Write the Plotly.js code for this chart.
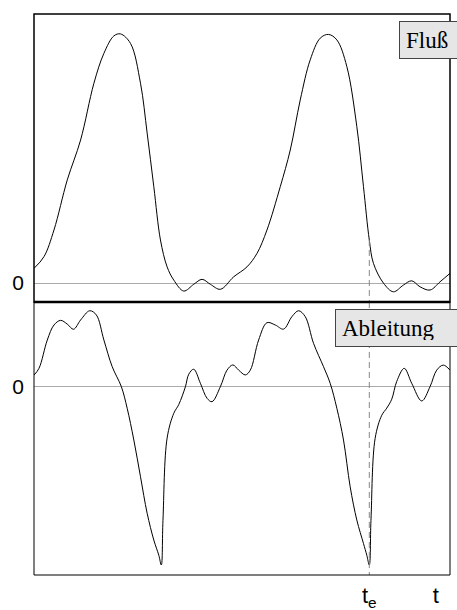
<!DOCTYPE html>
<html>
<head>
<meta charset="utf-8">
<script src="https://cdn.plot.ly/plotly-3.0.1.min.js"></script>
<style>
  html, body { margin: 0; padding: 0; background: #fff; }
  #chart { width: 457px; height: 610px; }
</style>
</head>
<body>
<div id="chart"></div>
<script>
// Flow signal (Fluß) over time
const tFlow = [0, 24, 48, 80, 112, 144, 168, 192, 208, 232, 256, 272, 288, 304, 320, 336, 360, 384, 404, 424, 448,
  480, 512, 536, 560, 592, 616, 640, 664, 688, 708, 728, 752, 776, 792, 806, 816, 840, 864, 888, 908, 928, 952, 976, 1000];
const flow = [0.059, 0.106, 0.213, 0.414, 0.574, 0.802, 0.922, 0.992, 1.0, 0.962, 0.802, 0.602, 0.387, 0.173, 0.065,
  0.012, -0.032, -0.005, 0.015, -0.005, -0.025, 0.025, 0.065, 0.119, 0.213, 0.387, 0.534, 0.735, 0.896, 0.983, 0.998,
  0.976, 0.869, 0.628, 0.387, 0.173, 0.079, 0.0, -0.035, -0.008, 0.009, -0.015, -0.028, 0.005, 0.039];

// Derivative of the flow (Ableitung)
const tDeriv = [0, 12, 32, 48, 64, 80, 95, 112, 134, 150, 168, 188, 210, 224, 240, 256, 272, 288, 300, 306, 310, 320,
  336, 348, 364, 372, 384, 400, 416, 428, 448, 464, 478, 492, 508, 520, 540, 560, 580, 600, 620, 636, 652, 672, 696,
  712, 728, 744, 760, 776, 792, 800, 806, 810, 820, 836, 848, 860, 872, 890, 908, 932, 952, 968, 984, 1000];
const deriv = [0.065, 0.103, 0.262, 0.346, 0.372, 0.351, 0.322, 0.374, 0.426, 0.402, 0.262, 0.112, 0.0, -0.121,
  -0.299, -0.505, -0.710, -0.860, -0.945, -1.0, -0.75, -0.288, -0.149, -0.100, 0.0, 0.070, 0.098, 0.019, -0.065,
  -0.084, 0.0, 0.093, 0.122, 0.093, 0.066, 0.093, 0.262, 0.359, 0.346, 0.323, 0.393, 0.426, 0.393, 0.243, 0.112,
  0.019, -0.121, -0.299, -0.561, -0.748, -0.879, -0.945, -1.0, -0.75, -0.290, -0.160, -0.120, -0.070, 0.030, 0.103,
  0.019, -0.080, 0.0, 0.093, 0.121, 0.093];

// Time axis marks and panel labels
const tE = 806;
const tEnd = 966;
const timeTickLabels = ['t<sub>e</sub>', 't'];
const zeroTickLabel = ['0'];
const panelLabels = ['Fluß', 'Ableitung'];

const flowAtTe = flow[tFlow.indexOf(tE)];
const yFlowRange = [-0.076, 1.080];
const yDerivRange = [-1.056, 0.475];
const splitY = 273 / 561;

const sans = 'Liberation Sans, Arial, sans-serif';
const serif = 'Liberation Serif, Times New Roman, serif';

const traces = [
  {
    x: tFlow, y: flow, xaxis: 'x', yaxis: 'y', type: 'scatter', mode: 'lines',
    line: { color: '#000', width: 1, shape: 'spline', smoothing: 1 }, hoverinfo: 'skip'
  },
  {
    x: tDeriv, y: deriv, xaxis: 'x2', yaxis: 'y2', type: 'scatter', mode: 'lines',
    line: { color: '#000', width: 1, shape: 'spline', smoothing: 1 }, hoverinfo: 'skip'
  }
];

const zeroAxis = (domain, range) => ({
  domain: domain, range: range, showgrid: false,
  zeroline: true, zerolinecolor: '#aaaaaa', zerolinewidth: 1,
  tickmode: 'array', tickvals: [0], ticktext: zeroTickLabel, ticks: '',
  ticklabelstandoff: 9,
  tickfont: { family: sans, size: 21, color: '#000' },
  showline: false, fixedrange: true
});

const layout = {
  width: 457, height: 610,
  margin: { l: 34, r: 7, t: 14, b: 35 },
  paper_bgcolor: '#fff', plot_bgcolor: '#fff',
  showlegend: false,
  xaxis: {
    domain: [0, 1], anchor: 'y', range: [0, 1000], showgrid: false, zeroline: false,
    showticklabels: false, ticks: '', showline: false, fixedrange: true
  },
  xaxis2: {
    domain: [0, 1], anchor: 'y2', range: [0, 1000], showgrid: false, zeroline: false,
    tickmode: 'array', tickvals: [tE, tEnd], ticktext: timeTickLabels, ticks: '',
    ticklabelstandoff: 5,
    tickfont: { family: sans, size: 22, color: '#000' }, showline: false, fixedrange: true
  },
  yaxis: Object.assign(zeroAxis([splitY, 1], yFlowRange), { anchor: 'x' }),
  yaxis2: Object.assign(zeroAxis([0, splitY], yDerivRange), { anchor: 'x2' }),
  shapes: [
    // dashed marker at t_e, from the flow curve down through the derivative panel
    { type: 'line', xref: 'x', yref: 'y', x0: tE, x1: tE, y0: flowAtTe, y1: yFlowRange[0],
      line: { color: '#888', width: 1, dash: '6px,4px' } },
    { type: 'line', xref: 'x2', yref: 'y2', x0: tE, x1: tE, y0: yDerivRange[1], y1: yDerivRange[0],
      line: { color: '#888', width: 1, dash: '6px,4px' } },
    // panel frames
    { type: 'rect', xref: 'paper', yref: 'paper', x0: 0, x1: 1, y0: splitY, y1: 1,
      line: { color: '#000', width: 1.5 } },
    { type: 'rect', xref: 'paper', yref: 'paper', x0: 0, x1: 1, y0: 0, y1: splitY,
      line: { color: '#000', width: 1 } },
    { type: 'line', xref: 'paper', yref: 'paper', x0: 0, x1: 1, y0: splitY, y1: splitY,
      line: { color: '#000', width: 2.5 } }
  ],
  annotations: [
    { text: panelLabels[0], xref: 'paper', yref: 'paper', x: (399 - 34) / 416, y: (575 - 21) / 561,
      xanchor: 'left', yanchor: 'top', align: 'left', showarrow: false,
      width: 49, height: 24, borderpad: 6, borderwidth: 1, bordercolor: '#444', bgcolor: '#e6e6e6',
      font: { family: serif, size: 23, color: '#000' } },
    { text: panelLabels[1], xref: 'paper', yref: 'paper', x: (335 - 34) / 416, y: (575 - 309) / 561,
      xanchor: 'left', yanchor: 'top', align: 'left', showarrow: false,
      width: 113, height: 24, borderpad: 6, borderwidth: 1, bordercolor: '#444', bgcolor: '#e6e6e6',
      font: { family: serif, size: 23, color: '#000' } }
  ]
};

Plotly.newPlot('chart', traces, layout, { displayModeBar: false, staticPlot: true });
</script>
</body>
</html>
